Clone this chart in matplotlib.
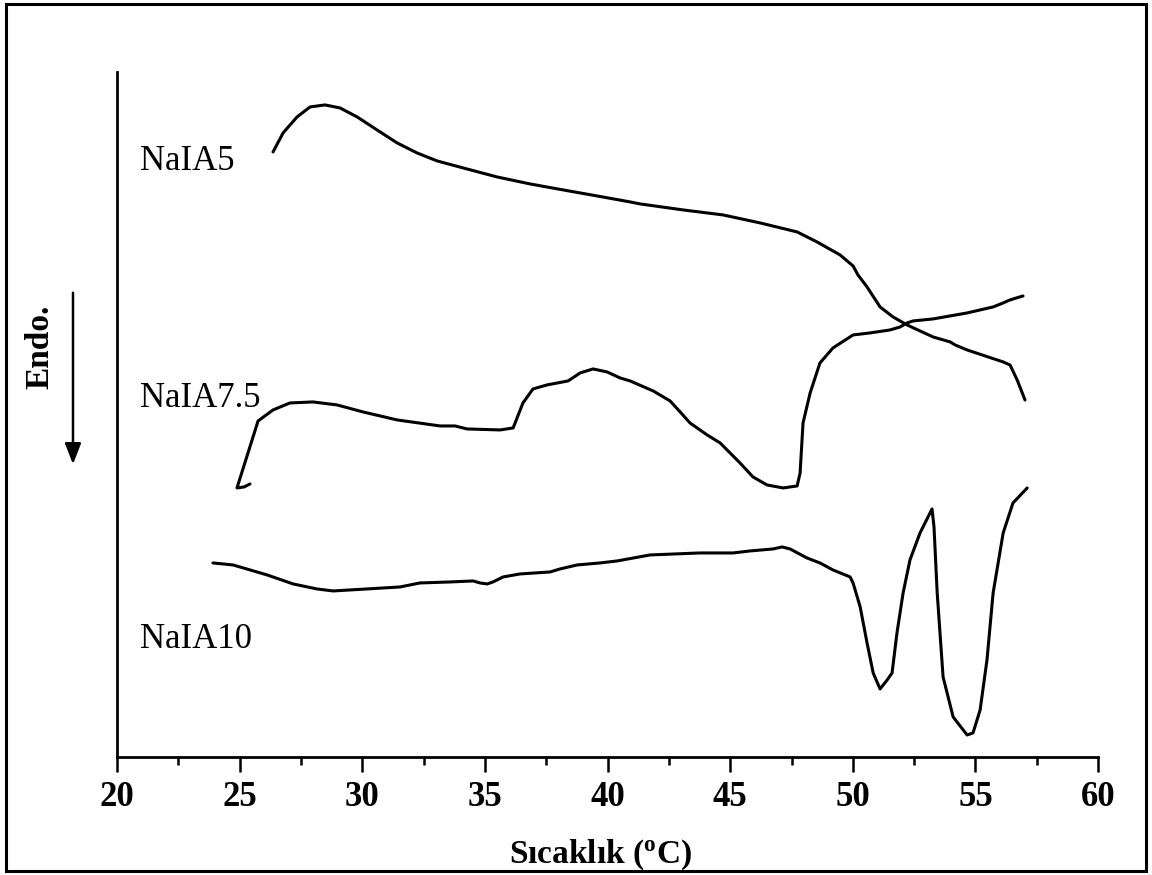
import matplotlib
matplotlib.use("Agg")
import matplotlib.pyplot as plt
from matplotlib.patches import Rectangle, FancyArrowPatch
from matplotlib.ticker import MultipleLocator

plt.rcParams["font.family"] = ["Liberation Serif", "DejaVu Serif"]
plt.rcParams["mathtext.fontset"] = "custom"
plt.rcParams["mathtext.rm"] = "Liberation Serif"
plt.rcParams["mathtext.bf"] = "Liberation Serif:bold"

# DSC traces: temperature (°C) and heat flow (arbitrary units, offset)
t_5 = [26.36, 26.77, 27.34, 27.87, 28.48, 29.09, 29.79, 30.60, 31.42, 32.23,
       33.05, 34.11, 35.49, 36.84, 38.19, 39.57, 40.92, 41.33, 43.08, 44.71,
       46.22, 47.73, 48.54, 49.48, 50.01, 50.21, 50.58, 51.11, 51.64, 52.21,
       53.27, 53.97, 54.17, 54.66, 56.13, 56.41, 56.70, 57.02]
h_5 = [605, 624, 640, 650, 652, 649, 640, 627, 614, 604,
       596, 589, 580, 573, 567, 561, 555, 553, 547, 542,
       534, 525, 515, 502, 491, 482, 470, 450, 440, 432,
       420, 415, 412, 407, 395, 392, 377, 357]

t_75 = [25.42, 25.18, 24.89, 25.75, 26.36, 27.05, 27.99, 28.97, 30.03, 31.42,
        33.17, 33.78, 34.27, 35.62, 36.15, 36.55, 36.96, 37.53, 38.39, 38.88,
        39.41, 39.98, 40.51, 40.92, 41.86, 42.55, 42.96, 43.36, 44.06, 44.59,
        45.40, 45.93, 46.50, 47.16, 47.73, 47.85, 47.97, 48.26, 48.66, 49.19,
        50.01, 50.70, 51.52, 51.93, 52.21, 52.46, 53.27, 54.66, 55.72, 56.13,
        56.41, 56.94]
h_75 = [273, 270, 269, 336, 347, 354, 355, 352, 345, 337,
        331, 331, 328, 327, 329, 354, 368, 372, 376, 384,
        388, 385, 379, 376, 366, 356, 345, 334, 322, 314,
        294, 280, 272, 269, 271, 284, 334, 364, 394, 409,
        422, 424, 427, 430, 434, 436, 438, 444, 450, 454,
        457, 461]

t_10 = [23.91, 24.73, 26.12, 27.18, 28.15, 28.81, 30.19, 31.54, 32.35, 33.58,
        34.52, 34.80, 35.09, 35.33, 35.74, 36.43, 37.66, 38.06, 38.76, 39.69,
        40.39, 41.73, 43.77, 44.87, 45.12, 45.81, 46.75, 47.12, 47.44, 48.13,
        48.66, 49.19, 49.89, 50.01, 50.30, 50.58, 50.83, 51.11, 51.40, 51.60,
        51.80, 52.05, 52.33, 52.74, 53.23, 53.31, 53.44, 53.68, 54.09, 54.66,
        54.90, 55.19, 55.47, 55.72, 56.13, 56.53, 57.11]
h_10 = [194, 192, 182, 173, 168, 166, 168, 170, 174, 175,
        176, 174, 173, 175, 180, 183, 185, 188, 192, 194,
        196, 202, 204, 204, 204, 206, 208, 210, 208, 199,
        194, 187, 180, 174, 150, 114, 84, 68, 77, 84,
        124, 164, 197, 224, 248, 230, 164, 80, 40, 22,
        24, 47, 97, 164, 224, 254, 269]

series = [("NaIA5", t_5, h_5, 587), ("NaIA7.5", t_75, h_75, 350),
          ("NaIA10", t_10, h_10, 109)]

fig = plt.figure(figsize=(11.52, 8.75), dpi=100)
ax = fig.add_axes([0.1016, 0.1349, 0.8516, 0.7829])

for name, t, h, ly in series:
    ax.plot(t, h, color="black", lw=2.2, solid_joinstyle="round",
            solid_capstyle="round")
    ax.text(20.95, ly, name, fontsize=25, va="baseline", ha="left")

ax.set_xlim(20, 60)
ax.set_ylim(0, 685)
ax.xaxis.set_major_locator(MultipleLocator(5))
ax.xaxis.set_minor_locator(MultipleLocator(2.5))
ax.set_yticks([])
for s in ["top", "right"]:
    ax.spines[s].set_visible(False)
for s in ["left", "bottom"]:
    ax.spines[s].set_linewidth(2.0)
ax.tick_params(axis="x", which="major", direction="out", length=11, width=1.8,
               pad=6, labelsize=25)
ax.tick_params(axis="x", which="minor", direction="out", length=5.5, width=1.8)
for lab in ax.get_xticklabels():
    lab.set_fontweight("bold")
ax.set_xlabel(r"Sıcaklık ($\mathbf{^{o}}$C)", fontsize=24, fontweight="bold",
              labelpad=15)
ax.xaxis.set_label_coords(0.493, -0.117)

# Endo. label with arrow
fig.text(40 / 1152, 1 - 347 / 875, "Endo.", rotation=90, fontsize=24,
         fontweight="bold", ha="center", va="center")
fig.add_artist(FancyArrowPatch((73 / 1152, 1 - 290 / 875), (73 / 1152, 1 - 467 / 875),
                               transform=fig.transFigure,
                               arrowstyle="-|>,head_length=0.9,head_width=0.35",
                               mutation_scale=14, color="black", lw=1.8))

# outer frame
fig.add_artist(Rectangle((6 / 1152, 4 / 875), 1140 / 1152, 867 / 875,
                         transform=fig.transFigure, fill=False, lw=2.2,
                         edgecolor="black"))

fig.savefig("out.png", dpi=100, facecolor="white")
